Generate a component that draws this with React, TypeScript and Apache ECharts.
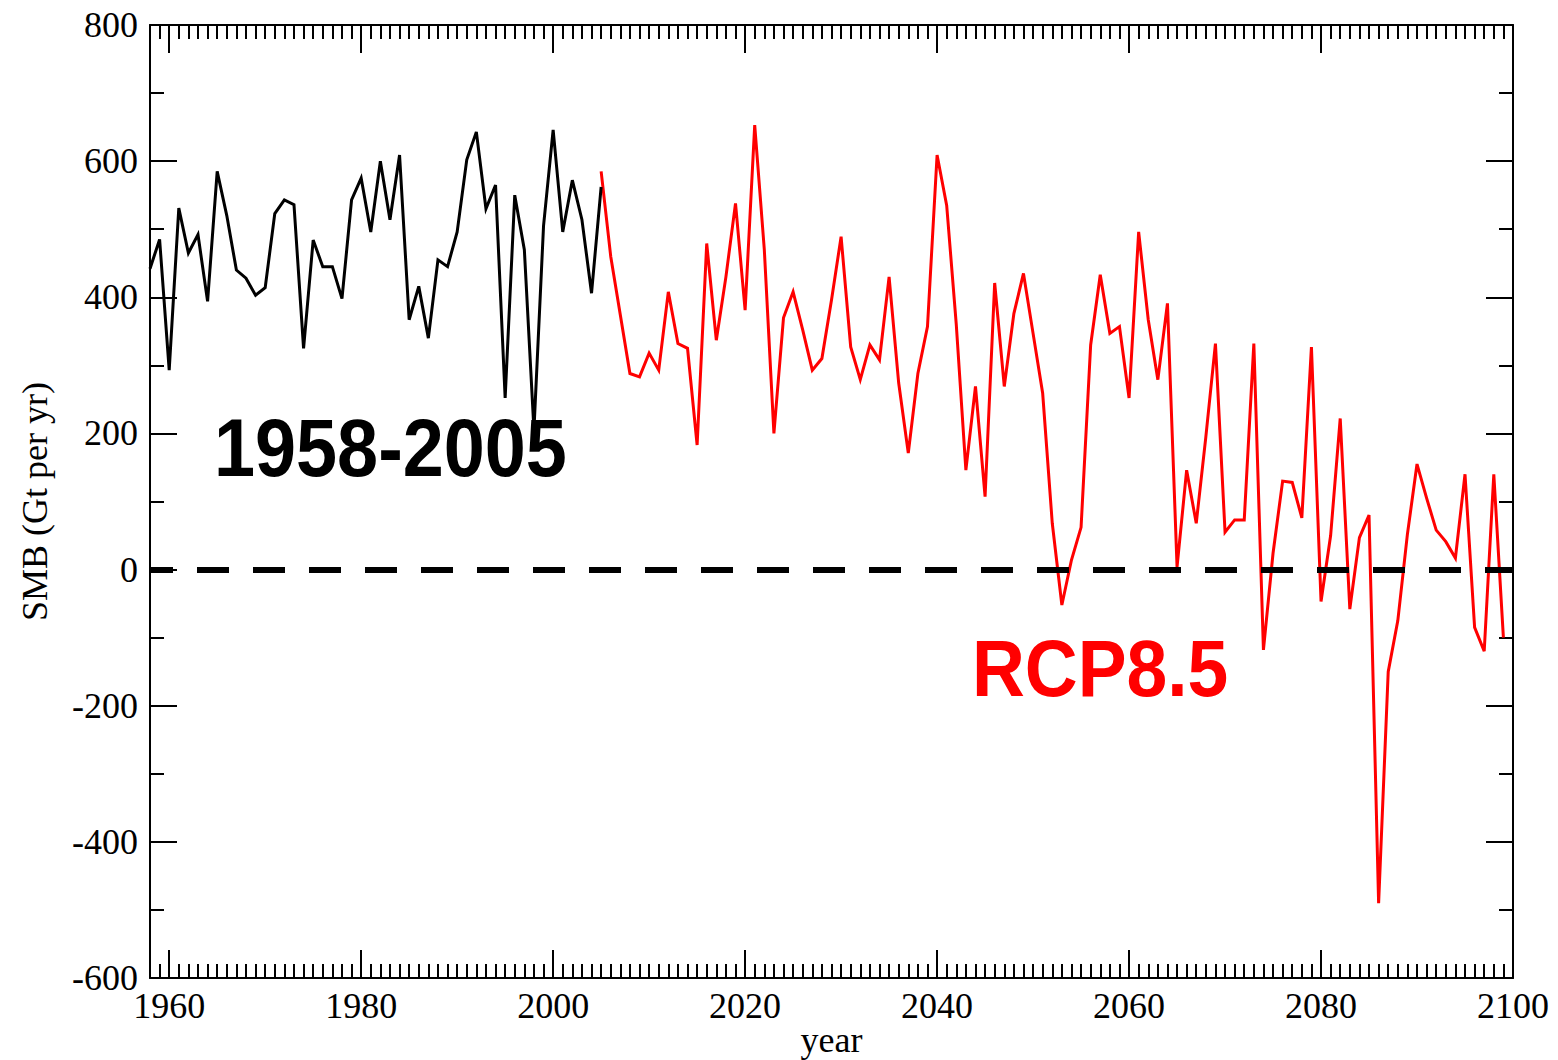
import React, { useEffect, useRef } from "react";
import * as echarts from "echarts";

// x categories: every year from 1958 to 2100
const firstYear = 1958;
const lastYear = 2100;
const years: number[] = [];
for (let y = firstYear; y <= lastYear; y++) years.push(y);

// labelled (major) x ticks
const majorYears = [1960, 1980, 2000, 2020, 2040, 2060, 2080, 2100];

// 1958-2005 (historical) SMB, Gt per yr
const histStart = 1958;
const histValues = [
  442, 485, 293, 531, 465, 492, 394, 585, 520, 440,
  428, 403, 414, 523, 543, 536, 325, 484, 445, 445,
  398, 543, 575, 496, 600, 514, 609, 367, 416, 340,
  455, 445, 496, 602, 643, 530, 565, 252, 550, 470,
  205, 505, 646, 496, 572, 514, 406, 562,
];

// RCP8.5 SMB, 2005-2099
const rcpStart = 2005;
const rcpValues = [
  585, 460, 374, 288, 283, 318, 293, 408, 332, 325,
  183, 479, 337, 430, 538, 381, 653, 470, 200, 370,
  408, 352, 293, 310, 396, 489, 327, 279, 330, 308,
  430, 274, 171, 288, 357, 609, 535, 360, 146, 269,
  107, 421, 269, 376, 435, 347, 259, 68, -52, 14,
  62, 330, 433, 347, 357, 252, 496, 367, 279, 391,
  4, 146, 68, 195, 332, 55, 73, 73, 332, -118,
  24, 130, 128, 76, 327, -47, 50, 222, -58, 47,
  80, -490, -150, -75, 52, 155, 105, 58, 41, 17,
  140, -85, -120, 140, -100,
];

// y axis
const yMin = -600;
const yMax = 800;
const yStep = 200;

const histLabel = "1958-2005";
const rcpLabel = "RCP8.5";
const xName = "year";
const yName = "SMB (Gt per yr)";

const serif = "'Liberation Serif', 'Times New Roman', Times, serif";
const sans = "'Liberation Sans', Arial, Helvetica, sans-serif";

function seriesFrom(start: number, values: number[]) {
  return years.map((y) => {
    const i = y - start;
    return i >= 0 && i < values.length ? values[i] : null;
  });
}

export default function App() {
  const ref = useRef<HTMLDivElement>(null);

  useEffect(() => {
    if (!ref.current) return;
    const chart = echarts.init(ref.current, undefined, { renderer: "svg" });
    const cats = years.map(String);
    const isMajor = (_i: number, v: string) => majorYears.indexOf(Number(v)) >= 0;
    const axisLineStyle = { color: "#000", width: 2 };
    const tickLineStyle = { color: "#000", width: 2 };

    const xBase = {
      type: "category",
      data: cats,
      boundaryGap: false,
      splitLine: { show: false },
    };

    const option: any = {
      animation: false,
      backgroundColor: "#fff",
      grid: {
        left: 150,
        top: 25,
        right: 45,
        bottom: 82,
        containLabel: false,
        outerBoundsMode: "none",
      },
      xAxis: [
        {
          ...xBase,
          position: "bottom",
          axisLine: { show: true, onZero: false, lineStyle: axisLineStyle },
          axisTick: { show: true, inside: true, length: 14, interval: 0, lineStyle: tickLineStyle },
          axisLabel: {
            show: true,
            interval: isMajor,
            margin: 10,
            fontFamily: serif,
            fontSize: 36,
            color: "#000",
          },
          name: xName,
          nameLocation: "middle",
          nameGap: 44,
          nameMoveOverlap: false,
          nameTextStyle: { fontFamily: serif, fontSize: 36, color: "#000" },
        },
        {
          ...xBase,
          position: "bottom",
          axisLine: { show: false, onZero: false },
          axisTick: { show: true, inside: true, length: 28, interval: isMajor, lineStyle: tickLineStyle },
          axisLabel: { show: false },
        },
        {
          ...xBase,
          position: "top",
          axisLine: { show: true, onZero: false, lineStyle: axisLineStyle },
          axisTick: { show: true, inside: true, length: 14, interval: 0, lineStyle: tickLineStyle },
          axisLabel: { show: false },
        },
        {
          ...xBase,
          position: "top",
          axisLine: { show: false, onZero: false },
          axisTick: { show: true, inside: true, length: 28, interval: isMajor, lineStyle: tickLineStyle },
          axisLabel: { show: false },
        },
      ],
      yAxis: [
        {
          type: "value",
          position: "left",
          min: yMin,
          max: yMax,
          interval: yStep,
          axisLine: { show: true, onZero: false, lineStyle: axisLineStyle },
          axisTick: { show: true, inside: true, length: 27, lineStyle: tickLineStyle },
          minorTick: { show: true, splitNumber: 2, length: 14, lineStyle: tickLineStyle },
          splitLine: { show: false },
          axisLabel: {
            show: true,
            margin: 12,
            fontFamily: serif,
            fontSize: 36,
            color: "#000",
          },
          name: yName,
          nameLocation: "middle",
          nameGap: 97,
          nameMoveOverlap: false,
          nameTextStyle: { fontFamily: serif, fontSize: 36, color: "#000" },
        },
        {
          type: "value",
          position: "right",
          min: yMin,
          max: yMax,
          interval: yStep,
          axisLine: { show: true, onZero: false, lineStyle: axisLineStyle },
          axisTick: { show: true, inside: true, length: 27, lineStyle: tickLineStyle },
          minorTick: { show: true, splitNumber: 2, length: 14, lineStyle: tickLineStyle },
          splitLine: { show: false },
          axisLabel: { show: false },
        },
      ],
      series: [
        {
          name: histLabel,
          type: "line",
          xAxisIndex: 0,
          yAxisIndex: 0,
          data: seriesFrom(histStart, histValues),
          showSymbol: false,
          symbol: "none",
          lineStyle: { color: "#000", width: 3, join: "miter" },
          z: 3,
        },
        {
          name: rcpLabel,
          type: "line",
          xAxisIndex: 0,
          yAxisIndex: 0,
          data: seriesFrom(rcpStart, rcpValues),
          showSymbol: false,
          symbol: "none",
          lineStyle: { color: "#ff0000", width: 3, join: "miter" },
          z: 2,
          markLine: {
            silent: true,
            symbol: "none",
            label: { show: false },
            lineStyle: { color: "#000", width: 6, type: [32, 24], dashOffset: 9 },
            data: [{ yAxis: 0 }],
            z: 10,
          },
        },
      ],
      graphic: [
        {
          type: "text",
          x: 214,
          y: 447.5,
          scaleX: 0.9,
          z: 20,
          style: {
            text: histLabel,
            fill: "#000",
            font: `bold 82px ${sans}`,
            textAlign: "left",
            textVerticalAlign: "middle",
          },
        },
        {
          type: "text",
          x: 972,
          y: 668,
          scaleX: 0.915,
          z: 20,
          style: {
            text: rcpLabel,
            fill: "#ff0000",
            font: `bold 80px ${sans}`,
            textAlign: "left",
            textVerticalAlign: "middle",
          },
        },
      ],
    };

    chart.setOption(option);
    return () => chart.dispose();
  }, []);

  return (
    <div
      ref={ref}
      style={{ position: "absolute", left: 0, top: 0, width: 1558, height: 1060, background: "#fff" }}
    />
  );
}
